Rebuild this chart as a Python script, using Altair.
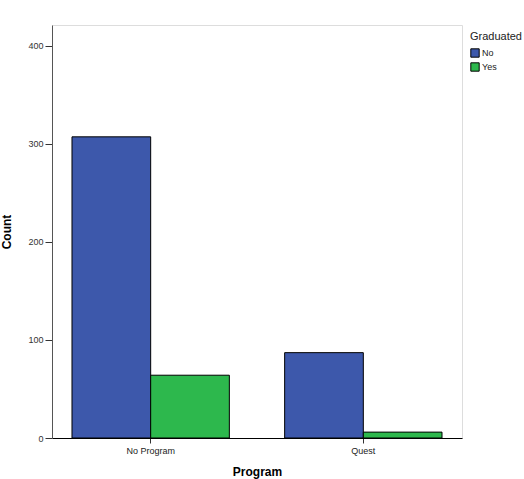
import altair as alt
import pandas as pd

programs = ["No Program", "No Program", "Quest", "Quest"]
graduated = ["No", "Yes", "No", "Yes"]
counts = [307, 64, 87, 6]

df = pd.DataFrame({"Program": programs, "Graduated": graduated, "Count": counts})

FONT = "Liberation Sans"

chart = alt.Chart(df).mark_bar(stroke="#000000", strokeWidth=1).encode(
    x=alt.X("Program:N", sort=["No Program", "Quest"],
            scale=alt.Scale(paddingInner=0.26, paddingOuter=0.094),
            axis=alt.Axis(title="Program", labelAngle=0, labelFontSize=9, labelColor="#222222",
                          titleFontSize=12, titleFontWeight="bold", titlePadding=11,
                          domainColor="#000000", tickColor="#333333", tickSize=5,
                          labelPadding=3)),
    xOffset=alt.XOffset("Graduated:N", scale=alt.Scale(paddingInner=0, paddingOuter=0)),
    y=alt.Y("Count:Q", scale=alt.Scale(domain=[0, 421], nice=False),
            axis=alt.Axis(title="Count", values=[0, 100, 200, 300, 400], grid=False,
                          labelFontSize=9, labelColor="#333333", tickSize=7,
                          tickColor="#333333", domainColor="#555555",
                          titleFontSize=12, titleFontWeight="bold", titlePadding=14)),
    color=alt.Color("Graduated:N",
                    scale=alt.Scale(domain=["No", "Yes"], range=["#3d58ab", "#2db84d"]),
                    legend=alt.Legend(orient="none", legendX=418, legendY=6,
                                      title="Graduated", titleFontSize=11,
                                      titleFontWeight="normal", titleColor="#222222",
                                      labelFontSize=9, labelColor="#222222",
                                      symbolType="square", symbolSize=70,
                                      symbolStrokeColor="#000000", symbolStrokeWidth=1,
                                      rowPadding=0, labelOffset=2, titlePadding=6,
                                      padding=0)),
).properties(
    width=410, height=413,
    autosize=alt.AutoSizeParams(type="none"),
    padding={"left": 52, "top": 25, "right": 62, "bottom": 41},
).configure_view(
    fill="#f0f0f0", stroke="#555555", strokeWidth=1
).configure(
    font=FONT, background="#ffffff"
)

chart.save("out.html", embed_options={"renderer": "svg", "actions": False})
